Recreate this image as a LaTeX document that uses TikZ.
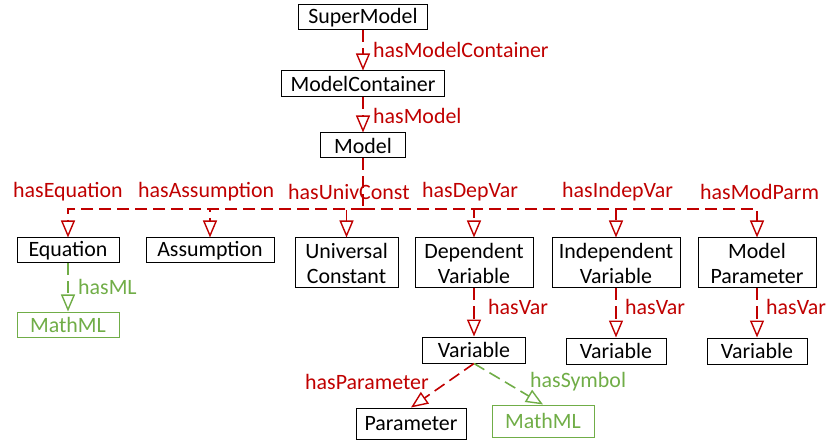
\documentclass[tikz,border=0pt]{standalone}
\usepackage{fontspec}
\setmainfont{Carlito}
\usetikzlibrary{arrows.meta}
\definecolor{rd}{RGB}{192,0,0}
\definecolor{gr}{RGB}{112,173,71}
\begin{document}
\begin{tikzpicture}[x=1pt,y=-1pt,
 font=\fontsize{21.9}{25}\selectfont,
 box/.style={draw=black,line width=1pt,inner sep=0pt,align=center,text=black},
 gbox/.style={draw=gr,line width=1pt,inner sep=0pt,align=center,text=gr},
 rel/.style={draw=rd,line width=1.6pt,dash pattern=on 12pt off 6pt,-{Triangle[open,width=14pt,length=17pt,line width=1.4pt]}},
 grel/.style={draw=gr,line width=1.6pt,dash pattern=on 12pt off 6pt,-{Triangle[open,width=14pt,length=17pt,line width=1.4pt]}},
 rlab/.style={text=rd,inner sep=0pt,anchor=west},
 glab/.style={text=gr,inner sep=0pt,anchor=west}]
\useasboundingbox (0,0) rectangle (829,443);
% nodes
\node[box,minimum width=129pt,minimum height=25pt] (sm) at (363,17.5) {SuperModel};
\node[box,minimum width=163pt,minimum height=26pt] (mc) at (363,84) {ModelContainer};
\node[box,minimum width=85pt,minimum height=25pt] (model) at (363,145.5) {Model};
\node[box,minimum width=102pt,minimum height=25pt] (eq) at (68,250.5) {Equation};
\node[box,minimum width=128pt,minimum height=25pt] (as) at (210,250.5) {Assumption};
\node[box,minimum width=103pt,minimum height=50pt] (uc) at (346.5,263) {Universal\\Constant};
\node[box,minimum width=118pt,minimum height=50pt] (dv) at (474,263) {Dependent\\Variable};
\node[box,minimum width=128pt,minimum height=50pt] (iv) at (616,263) {Independent\\Variable};
\node[box,minimum width=118pt,minimum height=50pt] (mp) at (757,263) {Model\\Parameter};
\node[box,minimum width=103pt,minimum height=26pt] (v1) at (474,350) {Variable};
\node[box,minimum width=100pt,minimum height=26pt] (v2) at (616,351) {Variable};
\node[box,minimum width=100pt,minimum height=26pt] (v3) at (757,351) {Variable};
\node[box,minimum width=110pt,minimum height=31pt] (par) at (411,423.5) {Parameter};
\node[gbox,minimum width=102pt,minimum height=25pt] (mm1) at (68,324.5) {MathML};
\node[gbox,minimum width=102pt,minimum height=32pt] (mm2) at (543,421) {MathML};
% connectors
\draw[rel] (sm) -- (mc);
\draw[rel] (mc) -- (model);
\coordinate (bus) at (363,209);
\draw[draw=rd,line width=1.6pt,dash pattern=on 12pt off 6pt] (model.south) -- (bus);
\foreach \n in {eq,as,uc,dv,iv,mp} \draw[rel] (bus) -| (\n.north);
\draw[rel] (dv) -- (v1);
\draw[rel] (iv) -- (v2);
\draw[rel] (mp) -- (v3);
\draw[rel] (v1.south) -- (par.north);
\draw[grel] (v1.south) -- (mm2.north);
\draw[grel] (eq) -- (mm1);
% labels
\node[rlab] (l1) at (373,50) {hasModelContainer};
\node[rlab] (l2) at (373,116) {hasModel};
\node[rlab] (l3) at (13,192) {hasEquation};
\node[rlab] (l4) at (138,192) {hasAssumption};
\node[rlab] (l5) at (288,192) {hasUnivConst};
\node[rlab] (l6) at (422,192) {hasDepVar};
\node[rlab] (l7) at (562,192) {hasIndepVar};
\node[rlab] (l8) at (700,192) {hasModParm};
\node[glab] (l9) at (78,287) {hasML};
\node[rlab] (l10) at (488,307) {hasVar};
\node[rlab] (l11) at (625,307) {hasVar};
\node[rlab] (l12) at (766,307) {hasVar};
\node[rlab] (l13) at (305,382) {hasParameter};
\node[glab] (l14) at (530,382) {hasSymbol};
\end{tikzpicture}
\end{document}
